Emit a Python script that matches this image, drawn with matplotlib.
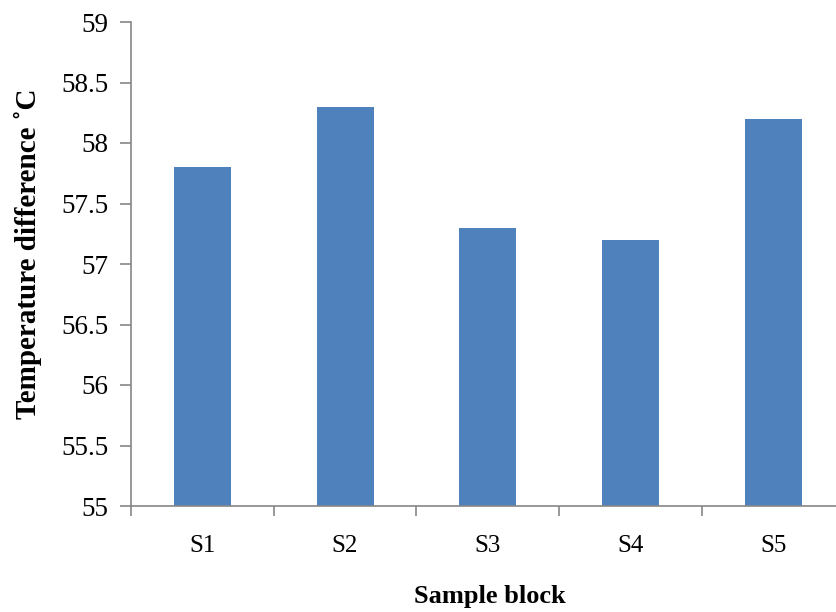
import matplotlib
matplotlib.use("Agg")
import matplotlib.pyplot as plt
import numpy as np

categories = ["S1", "S2", "S3", "S4", "S5"]
values = [57.8, 58.3, 57.3, 57.2, 58.2]
yticks = [55, 55.5, 56, 56.5, 57, 57.5, 58, 58.5, 59]
ytick_labels = ["55", "55.5", "56", "56.5", "57", "57.5", "58", "58.5", "59"]

plt.rcParams['font.family'] = ['Liberation Serif', 'DejaVu Serif']

fig = plt.figure(figsize=(8.37, 6.12), dpi=100)
ax = fig.add_axes([131/837, 106/612, 713.5/837, 484/612])

x = np.arange(len(categories))
ax.bar(x, values, width=0.4, color="#4F81BD", bottom=0)
ax.set_ylim(55, 59)
ax.set_xlim(-0.5, len(categories) - 0.5)

ax.set_yticks(yticks)
ax.set_yticklabels(ytick_labels, fontsize=19.5)
ax.set_xticks(x)
ax.set_xticklabels(categories, fontsize=18)
ax.tick_params(axis='x', which='major', length=0, pad=21)
ax.set_xticks(np.arange(len(categories) + 1) - 0.5, minor=True)
ax.tick_params(axis='x', which='minor', length=7, color="#868686", width=1.2)
ax.tick_params(axis='y', length=8, color="#868686", width=1.2, pad=8)

for s in ["top", "right"]:
    ax.spines[s].set_visible(False)
for s in ["left", "bottom"]:
    ax.spines[s].set_color("#868686")
    ax.spines[s].set_linewidth(1.2)

fig.text(490/837, 1 - 597/612, "Sample block", fontsize=19, fontweight="bold",
         ha="center", va="center")
fig.text(28/837, 1 - 254/612, "Temperature difference ˚C", fontsize=21,
         fontweight="bold", ha="center", va="center", rotation=90)

fig.savefig("out.png", dpi=100)
